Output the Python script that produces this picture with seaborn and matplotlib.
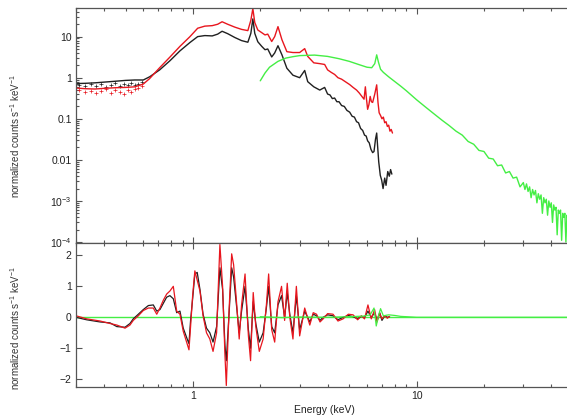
import numpy as np
import pandas as pd
import seaborn as sns
import matplotlib.pyplot as plt
from matplotlib.ticker import FixedLocator, FixedFormatter, NullFormatter, LogLocator

# ---- upper panel: unfolded spectra (keV, normalized counts s^-1 keV^-1)
e_black = [0.30, 0.33, 0.365, 0.40, 0.45, 0.50, 0.55, 0.60, 0.64, 0.71,
           0.79, 0.875, 0.97, 1.05, 1.13, 1.22, 1.29, 1.35, 1.43, 1.54,
           1.65, 1.76, 1.815, 1.853, 1.89, 1.95, 2.03, 2.10, 2.16, 2.25,
           2.32, 2.40, 2.50, 2.63, 2.80, 3.00, 3.16, 3.26, 3.47, 3.69,
           3.88, 4.00, 4.10, 4.20, 4.30, 4.40, 4.50, 4.62, 4.75, 4.88,
           5.02, 5.15, 5.27, 5.39, 5.50, 5.62, 5.74, 5.85, 5.95, 6.04,
           6.14, 6.25, 6.36, 6.45, 6.55, 6.63, 6.70, 6.77, 6.88, 6.98,
           7.08, 7.20, 7.30, 7.43, 7.55, 7.65, 7.75]
f_black = [0.72, 0.73, 0.75, 0.78, 0.82, 0.86, 0.88, 0.88, 1.05, 1.55,
           2.6, 4.5, 7.2, 10.0, 10.6, 10.4, 11.5, 13.5, 11.8, 9.5,
           8.0, 7.3, 12.0, 27.0, 12.0, 7.5, 5.8, 4.8, 5.0, 3.2,
           4.0, 6.0, 3.6, 1.7, 1.15, 1.0, 1.5, 0.8, 0.6, 0.5,
           0.58, 0.40, 0.38, 0.31, 0.32, 0.26, 0.26, 0.21, 0.20, 0.16,
           0.145, 0.115, 0.11, 0.085, 0.08, 0.058, 0.052, 0.04, 0.038, 0.029,
           0.026, 0.018, 0.015, 0.016, 0.032, 0.045, 0.02, 0.009, 0.0042, 0.0032,
           0.0020, 0.0036, 0.0024, 0.0052, 0.0040, 0.0058, 0.0045]

e_red = [0.30, 0.33, 0.365, 0.40, 0.45, 0.50, 0.55, 0.60, 0.64, 0.71,
         0.79, 0.875, 0.97, 1.05, 1.13, 1.22, 1.29, 1.35, 1.43, 1.54,
         1.65, 1.76, 1.815, 1.853, 1.89, 1.95, 2.03, 2.10, 2.16, 2.25,
         2.32, 2.40, 2.50, 2.63, 2.80, 3.00, 3.16, 3.26, 3.47, 3.69,
         3.88, 4.00, 4.15, 4.30, 4.45, 4.62, 4.80, 5.02, 5.20, 5.39,
         5.55, 5.74, 5.82, 5.90, 5.97, 6.04, 6.12, 6.20, 6.28, 6.36,
         6.50, 6.63, 6.72, 6.80, 6.90, 7.00, 7.10, 7.20, 7.30, 7.40,
         7.50, 7.60, 7.70, 7.80]
f_red = [0.56, 0.54, 0.53, 0.55, 0.57, 0.58, 0.60, 0.70, 0.95, 1.75,
         3.2, 5.8, 10.0, 16.0, 18.0, 18.5, 20.0, 23.0, 20.0, 17.0,
         15.0, 14.0, 25.0, 48.0, 22.0, 14.5, 12.5, 11.0, 11.5, 7.6,
         10.0, 17.5, 8.4, 4.3, 4.1, 4.1, 5.1, 3.3, 2.3, 2.2,
         2.1, 1.55, 1.35, 1.2, 1.0, 0.92, 0.8, 0.68, 0.58, 0.5,
         0.42, 0.33, 0.30, 0.60, 0.30, 0.17, 0.22, 0.35, 0.26, 0.25,
         0.40, 0.67, 0.25, 0.14, 0.12, 0.10, 0.11, 0.08, 0.085, 0.065,
         0.07, 0.05, 0.055, 0.045]

# low-energy data points sitting under the black / red curves
e_pts = [0.31, 0.33, 0.35, 0.37, 0.39, 0.41, 0.43, 0.45, 0.47, 0.49,
         0.51, 0.53, 0.55, 0.57, 0.59]
black_pts = [0.66, 0.62, 0.70, 0.64, 0.72, 0.60, 0.68, 0.74, 0.63, 0.70,
             0.66, 0.75, 0.68, 0.72, 0.80]
red_pts = [0.50, 0.44, 0.48, 0.42, 0.47, 0.52, 0.43, 0.49, 0.45, 0.41,
           0.50, 0.46, 0.52, 0.55, 0.62]

e_green = [2.0, 2.1, 2.2, 2.4, 2.6, 2.8, 3.0, 3.5, 4.0, 4.5,
           5.0, 5.5, 6.0, 6.3, 6.5, 6.63, 6.75, 6.9, 7.1, 7.5,
           8.0, 8.5, 9.0, 10.0, 11.0, 12.0, 13.0, 14.0, 15.0, 16.0,
           17.0, 18.0, 19.0, 20.0, 21.0, 22.0, 23.0, 24.0, 25.0, 26.0,
           27.0, 28.0, 29.0, 30.0, 30.5, 31.0, 31.5, 32.0, 32.5, 33.0,
           33.5, 34.0, 34.5, 35.0, 35.5, 36.0, 36.5, 37.0, 37.5, 38.0,
           38.5, 39.0, 39.5, 40.0, 40.5, 41.0, 41.5, 42.0, 42.5, 43.0,
           43.5, 44.0, 44.5, 45.0, 45.5, 46.0, 46.5, 47.0, 47.5, 48.0,
           48.5, 49.0, 49.5, 50.0]
f_green = [0.84, 1.3, 1.8, 2.5, 3.0, 3.25, 3.45, 3.55, 3.3, 2.9,
           2.5, 2.1, 1.8, 1.75, 2.2, 3.6, 2.4, 1.6, 1.35, 1.05,
           0.8, 0.62, 0.48, 0.29, 0.19, 0.13, 0.092, 0.068, 0.05, 0.04,
           0.028, 0.024, 0.017, 0.016, 0.011, 0.0105, 0.0072, 0.0075, 0.0048, 0.0052,
           0.0036, 0.0038, 0.0022, 0.0028, 0.0019, 0.0026, 0.0017, 0.0022, 0.0012, 0.0019,
           0.0014, 0.0018, 0.0009, 0.0015, 0.0011, 0.0014, 0.0005, 0.0012, 0.0009, 0.0011,
           0.00045, 0.0010, 0.0007, 0.0009, 0.0003, 0.0008, 0.0006, 0.0007, 0.00015, 0.0006,
           0.0005, 0.0006, 0.00011, 0.0005, 0.0004, 0.0005, 0.0001, 0.00045, 0.00035, 0.0004,
           0.0002, 0.00035, 0.0003, 0.0003]

# ---- lower panel: residuals
e_res = [0.30, 0.335, 0.385, 0.426, 0.457, 0.497, 0.523, 0.541, 0.570, 0.600,
         0.632, 0.665, 0.689, 0.712, 0.737, 0.763, 0.789, 0.817, 0.846, 0.875,
         0.905, 0.937, 0.960, 0.976, 0.997, 1.02, 1.045, 1.075, 1.11, 1.15,
         1.19, 1.23, 1.276, 1.297, 1.32, 1.357, 1.39, 1.41, 1.45, 1.49,
         1.52, 1.57, 1.61, 1.65, 1.71, 1.77, 1.81, 1.86, 1.91, 1.98,
         2.06, 2.13, 2.18, 2.25, 2.32, 2.40, 2.49, 2.57, 2.64, 2.71,
         2.80, 2.90, 3.0, 3.16, 3.33, 3.45, 3.57, 3.70, 3.82, 4.0,
         4.23, 4.45, 4.69, 4.95, 5.20, 5.45, 5.66, 5.85, 6.06, 6.27,
         6.49, 6.65, 6.84, 7.0, 7.2, 7.4, 7.57]
r_red = [0.05, -0.05, -0.12, -0.2, -0.25, -0.35, -0.25, -0.1, 0.05, 0.22,
         0.3, 0.3, 0.1, 0.3, 0.55, 0.75, 0.85, 1.0, 0.2, 0.1,
         -0.45, -0.8, -1.05, -0.3, 0.7, 1.5, 1.2, 0.85, 0.05, -0.5,
         -0.7, -1.1, -0.5, 0.9, 2.35, 1.0, -1.2, -2.2, 0.2, 2.05,
         1.7, 0.4, -0.7, 0.4, 1.4, -0.6, -1.4, 0.8, -0.3, -1.1,
         -0.7, 0.4, 1.4, -0.4, -0.8, 0.5, 1.0, -0.1, 1.1, 0.0,
         -0.7, 1.0, -0.6, 0.3, -0.25, 0.15, 0.1, -0.15, -0.05, 0.12,
         0.1, -0.12, -0.05, 0.1, 0.08, -0.08, 0.05, -0.05, 0.4, -0.05,
         0.25, -0.15, 0.12, -0.05, 0.05, -0.03, 0.03]
r_black = [0.0, -0.08, -0.15, -0.18, -0.3, -0.32, -0.2, -0.05, 0.1, 0.25,
           0.38, 0.4, 0.2, 0.25, 0.45, 0.65, 0.7, 0.6, 0.15, 0.2,
           -0.35, -0.65, -0.85, -0.1, 0.6, 1.4, 1.45, 0.9, 0.1, -0.35,
           -0.5, -0.8, -0.3, 0.6, 1.6, 0.9, -0.9, -1.4, 0.1, 1.6,
           1.3, 0.3, -0.5, 0.2, 1.0, -0.4, -1.0, 0.5, -0.2, -0.8,
           -0.5, 0.3, 1.0, -0.3, -0.5, 0.4, 0.7, 0.0, 0.8, 0.1,
           -0.5, 0.7, -0.4, 0.2, -0.15, 0.1, 0.05, -0.1, 0.0, 0.08,
           0.05, -0.08, 0.0, 0.06, 0.02, -0.05, 0.03, 0.0, 0.2, 0.0,
           0.15, -0.1, 0.15, -0.1, 0.05, 0.0, 0.02]
e_gres = [2.0, 2.5, 3.0, 4.0, 5.0, 5.8, 6.2, 6.45, 6.6, 6.75,
          6.9, 7.1, 7.5, 8.0, 8.5, 9.0, 10.0, 15.0, 20.0, 30.0, 50.0]
r_green = [0.02, -0.01, 0.01, 0.0, 0.02, 0.04, 0.08, 0.3, -0.28, 0.05,
           0.28, 0.05, 0.08, 0.06, 0.03, 0.02, 0.0, 0.0, 0.0, 0.0, 0.0]

up_ticks = [1e1, 1e0, 1e-1, 1e-2, 1e-3, 1e-4]
up_labels = ['10', '1', '0.1', '0.01', '10$^{-3}$', '10$^{-4}$']
lo_ticks = [-2, -1, 0, 1, 2]
lo_labels = ['\u22122', '\u22121', '0', '1', '2']
x_ticks = [1, 10]
x_labels = ['1', '10']

sns.set_style('ticks')
plt.rcParams['font.family'] = ['Liberation Sans', 'DejaVu Sans']
plt.rcParams['mathtext.fontset'] = 'custom'
plt.rcParams['mathtext.rm'] = 'Liberation Sans'

BLACK = '#202020'
RED = '#e8161e'
GREEN = '#44ee44'
SPINE = '#555555'

fig = plt.figure(figsize=(5.67, 4.16), dpi=100)
ax1 = fig.add_axes([0.134, 0.416, 0.8765, 0.565])
ax2 = fig.add_axes([0.134, 0.0697, 0.8765, 0.3462], sharex=ax1)

# upper panel
sns.scatterplot(x=e_pts, y=black_pts, ax=ax1, color=BLACK, marker='+', s=6, linewidth=0.5)
sns.scatterplot(x=e_pts, y=red_pts, ax=ax1, color=RED, marker='+', s=6, linewidth=0.5)
sns.lineplot(x=e_black, y=f_black, ax=ax1, color=BLACK, lw=1.0)
sns.lineplot(x=e_red, y=f_red, ax=ax1, color=RED, lw=1.0)
sns.lineplot(x=e_green, y=f_green, ax=ax1, color=GREEN, lw=1.0)

# lower panel
ax2.axhline(0, color=GREEN, lw=1.0, zorder=1)
sns.lineplot(x=e_res, y=r_black, ax=ax2, color=BLACK, lw=0.9)
sns.lineplot(x=e_res, y=r_red, ax=ax2, color=RED, lw=0.9)
sns.lineplot(x=e_gres, y=r_green, ax=ax2, color=GREEN, lw=0.9)

ax1.set_xscale('log')
ax1.set_yscale('log')
ax1.set_xlim(0.3, 50)
ax1.set_ylim(9.5e-5, 50)
ax2.set_ylim(-2.25, 2.4)

ax1.yaxis.set_major_locator(FixedLocator(up_ticks))
ax1.yaxis.set_major_formatter(FixedFormatter(up_labels))
ax1.yaxis.set_minor_locator(LogLocator(base=10, subs=range(2, 10), numticks=20))
ax1.yaxis.set_minor_formatter(NullFormatter())

ax2.yaxis.set_major_locator(FixedLocator(lo_ticks))
ax2.yaxis.set_major_formatter(FixedFormatter(lo_labels))
ax2.xaxis.set_major_locator(FixedLocator(x_ticks))
ax2.xaxis.set_major_formatter(FixedFormatter(x_labels))
ax2.xaxis.set_minor_locator(LogLocator(base=10, subs=range(2, 10), numticks=20))
ax2.xaxis.set_minor_formatter(NullFormatter())

for ax in (ax1, ax2):
    ax.tick_params(which='both', direction='in', top=True, right=True,
                   color=SPINE, width=0.8, labelsize=7.5, labelcolor='#222222', pad=3)
    ax.tick_params(which='major', length=4)
    ax.tick_params(which='minor', length=2)
    for s in ax.spines.values():
        s.set_color(SPINE)
        s.set_linewidth(0.9)
ax1.tick_params(labelbottom=False)

label = 'normalized counts s$^{-1}$ keV$^{-1}$'
ax1.set_ylabel(label, fontsize=7, color='#333333')
ax2.set_ylabel(label, fontsize=7, color='#333333')
ax1.yaxis.set_label_coords(-0.109, 0.455)
ax2.yaxis.set_label_coords(-0.109, 0.41)
ax1.set_xlabel('')
ax2.set_xlabel('Energy (keV)', fontsize=7.5, color='#222222', labelpad=3)

fig.savefig('out.png', dpi=100)
